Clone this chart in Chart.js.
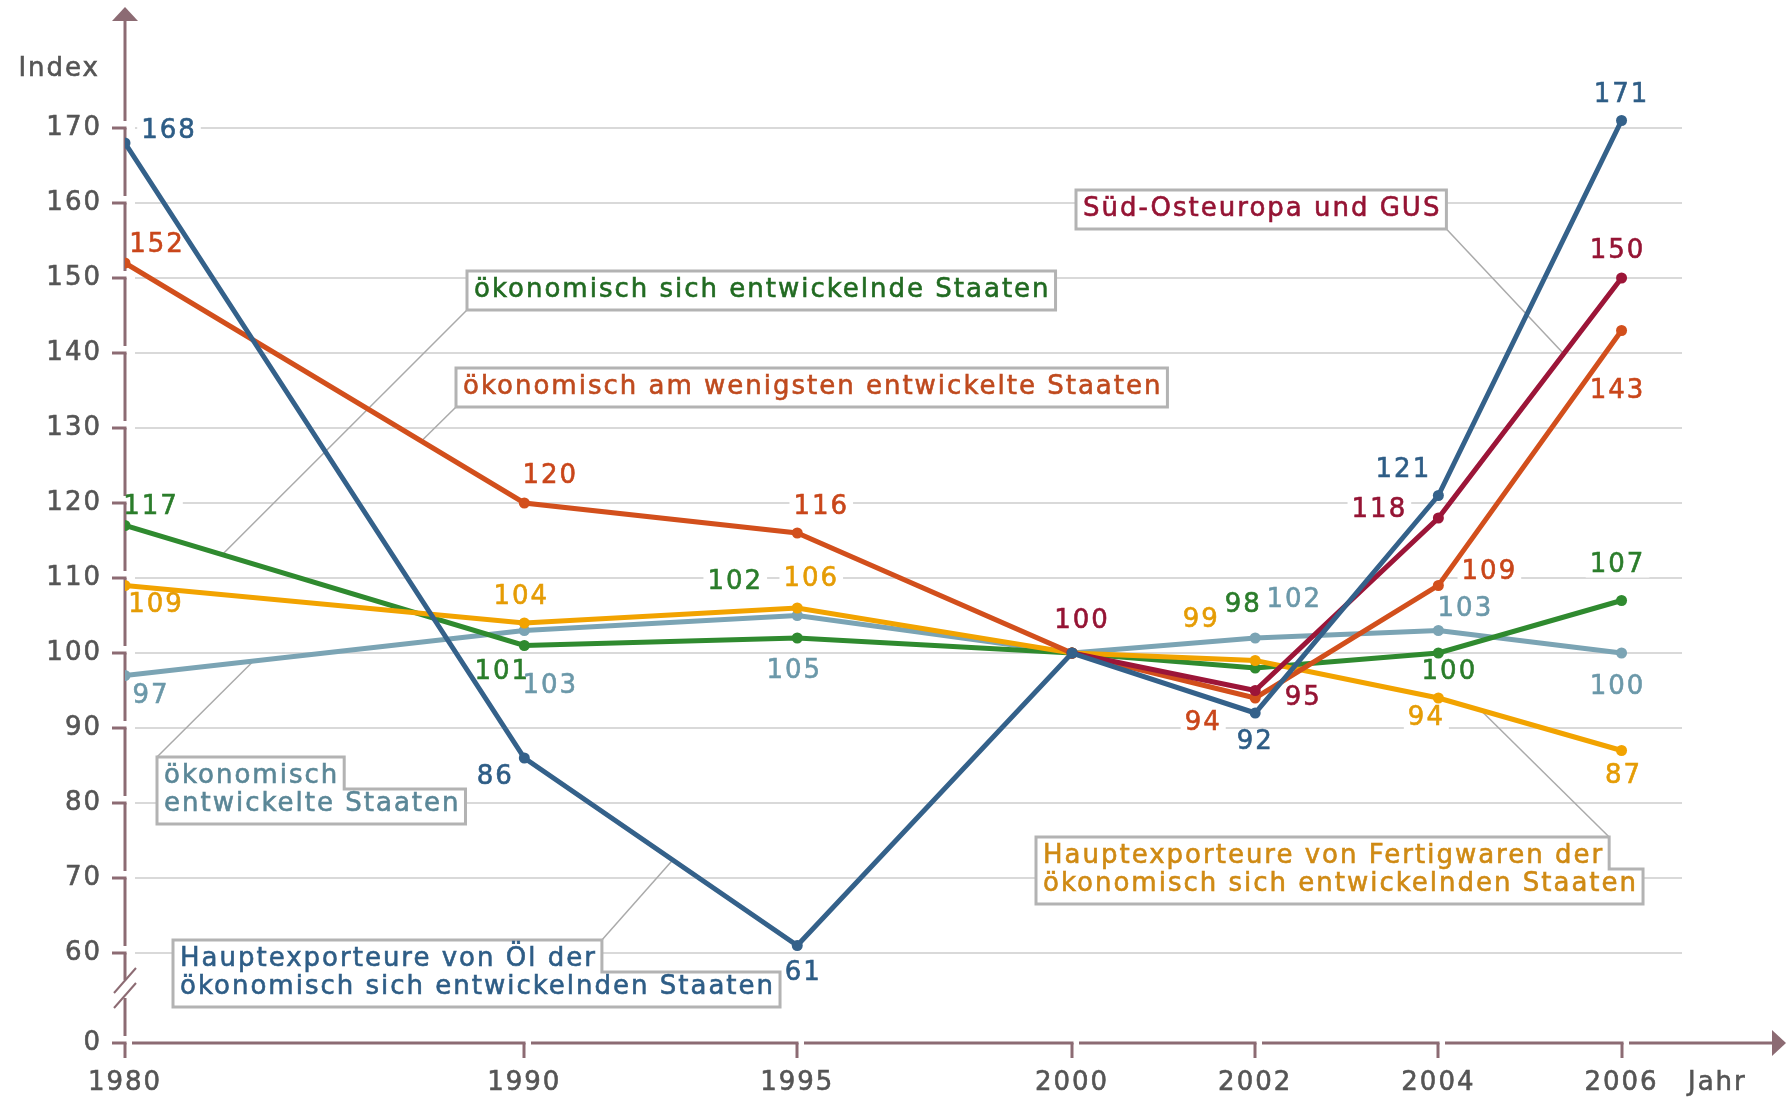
<!DOCTYPE html>
<html>
<head>
<meta charset="utf-8">
<script src="https://cdn.jsdelivr.net/npm/chart.js@4"></script>
<style>
  html, body { margin: 0; background: #fff; }
</style>
</head>
<body>
<canvas id="chart" width="1786" height="1098"></canvas>
<script>
// --- data ---
const years = [1980, 1990, 1995, 2000, 2002, 2004, 2006];
// the x axis is not to scale: each year sits on its own slot
const yearSlot = [0, 2.18, 3.67, 5.17, 6.17, 7.17, 8.17];
// broken y axis: "0" is drawn where 48 would be
const yTicks = [48, 60, 70, 80, 90, 100, 110, 120, 130, 140, 150, 160, 170];
const yTickLabels = ["0", "60", "70", "80", "90", "100", "110", "120", "130", "140", "150", "160", "170"];
const breakValue = 48;

const oilExporters   = [168, 86, 61, 100, 92, 121, 171];
const seeCis         = [null, null, null, 100, 95, 118, 150];
const leastDeveloped = [152, 120, 116, 100, 94, 109, 143];
const manufExporters = [109, 104, 106, 100, 99, 94, 87];
const developing     = [117, 101, 102, 100, 98, 100, 107];
const developed      = [97, 103, 105, 100, 102, 103, 100];

// --- look ---
const FONT_SIZE = 26;
const FONT = FONT_SIZE + 'px "DejaVu Sans"';
const SPACING = "2px";
const TEXT_STROKE = 0.6;
const axisColor = "#8c6b73";
const tickColor = "#555555";

// labelAt: offset in px of each value label from its point (null = no label)
const series = [
  { values: oilExporters, color: "#34618a", text: "#2e5d86", boxText: "#2e5d86",
    labelAt: [[44, -12], [-29, 19], [6, 28], null, [0, 29], [-35, -25], [0, -25]],
    box: { left: 173, top: 940, attach: "tr", to: { x: 2.99, y: 72.4 },
           lines: ["Hauptexporteure von Öl der", "ökonomisch sich entwickelnden Staaten"] } },
  { values: seeCis, color: "#9c1538", text: "#951434", boxText: "#951434",
    labelAt: [null, null, null, [10, -32], [48, 8], [-59, -8], [-4, -27]],
    box: { left: 1076, top: 190, attach: "br", to: { x: 7.85, y: 140 },
           lines: ["Süd-Osteuropa und GUS"] } },
  { values: leastDeveloped, color: "#d24f1c", text: "#c9461a", boxText: "#bf4a1e",
    labelAt: [[32, -18], [26, -27], [24, -26], null, [-52, 25], [51, -13], [-4, 61]],
    box: { left: 456, top: 368, attach: "bl", to: { x: 1.62, y: 128.3 },
           lines: ["ökonomisch am wenigsten entwickelte Staaten"] } },
  { values: manufExporters, color: "#f2a300", text: "#e59c05", boxText: "#cf8a14",
    labelAt: [[31, 20], [-3, -26], [14, -29], null, [-54, -40], [-12, 20], [2, 26]],
    box: { left: 1036, top: 837, attach: "tr", to: { x: 7.40, y: 92.4 },
           lines: ["Hauptexporteure von Fertigwaren der", "ökonomisch sich entwickelnden Staaten"] } },
  { values: developing, color: "#2f8a2f", text: "#2b7d2b", boxText: "#226b22",
    labelAt: [[26, -18], [-22, 27], [-62, -56], null, [-12, -63], [11, 19], [-4, -35]],
    box: { left: 467, top: 271, attach: "bl", to: { x: 0.53, y: 113.1 },
           lines: ["ökonomisch sich entwickelnde Staaten"] } },
  { values: developed, color: "#7ba4b4", text: "#6b98a9", boxText: "#5b8797",
    labelAt: [[26, 21], [26, 56], [-3, 56], null, [39, -38], [27, -21], [-4, 34]],
    box: { left: 157, top: 757, attach: "tl", to: { x: 0.70, y: 98.9 },
           lines: ["ökonomisch", "entwickelte Staaten"] } }
];

function boxGeom(ctx, b) {
  const pad = 7, lineH = 28;
  const widths = b.lines.map(t => ctx.measureText(t).width);
  const L = b.left, T = b.top;
  const R = L + Math.max(...widths) + 2 * pad - 2;
  const B = T + 39 + lineH * (b.lines.length - 1);
  let pts, notchX = R;
  if (b.lines.length > 1 && widths[0] < widths[1]) {
    notchX = L + widths[0] + 2 * pad - 2;
    pts = [[L, T], [notchX, T], [notchX, T + 32], [R, T + 32], [R, B], [L, B]];
  } else {
    pts = [[L, T], [R, T], [R, B], [L, B]];
  }
  const attach = { tl: [L, T], bl: [L, B], br: [R, B], tr: [notchX, T] }[b.attach];
  return { pts, attach, L, T, pad, lineH };
}

function seg(ctx, x1, y1, x2, y2) {
  ctx.beginPath(); ctx.moveTo(x1, y1); ctx.lineTo(x2, y2); ctx.stroke();
}

function label(ctx, text, px, py, color) {
  ctx.fillStyle = color; ctx.strokeStyle = color; ctx.lineWidth = TEXT_STROKE;
  ctx.fillText(text, px, py);
  ctx.strokeText(text, px, py);
}

function drawAxes(chart) {
  const { ctx, scales: { x, y } } = chart;
  const ax = Math.round(x.getPixelForValue(0));
  const y0 = Math.round(y.getPixelForValue(breakValue));
  const p60 = Math.round(y.getPixelForValue(60));
  ctx.strokeStyle = axisColor; ctx.fillStyle = axisColor; ctx.lineWidth = 3;

  // y axis with arrow
  const tip = 7;
  ctx.beginPath(); ctx.moveTo(ax, tip); ctx.lineTo(ax - 13, tip + 14); ctx.lineTo(ax + 13, tip + 14);
  ctx.closePath(); ctx.fill();
  let from = tip + 14;
  yTicks.filter(v => v !== breakValue)
    .map(v => Math.round(y.getPixelForValue(v)))
    .sort((a, b) => a - b)
    .forEach(py => { seg(ctx, ax, from, ax, py - 7); seg(ctx, ax - 13, py, ax + 1.5, py); from = py; });
  seg(ctx, ax, p60, ax, p60 + 27);
  ctx.lineWidth = 2;
  seg(ctx, ax - 11, p60 + 40, ax + 11, p60 + 15);
  seg(ctx, ax - 11, p60 + 55, ax + 11, p60 + 30);
  ctx.lineWidth = 3;
  seg(ctx, ax, p60 + 45, ax, y0 - 7);
  seg(ctx, ax - 13, y0, ax + 1.5, y0);
  seg(ctx, ax, y0, ax, y0 + 15);

  // x axis with arrow
  let start = ax + 7;
  yearSlot.slice(1).forEach(s => {
    const px = Math.round(x.getPixelForValue(s));
    seg(ctx, start, y0, px + 1.5, y0);
    seg(ctx, px, y0, px, y0 + 15);
    start = px + 7;
  });
  const end = chart.width;
  seg(ctx, start, y0, end - 13, y0);
  ctx.beginPath(); ctx.moveTo(end, y0); ctx.lineTo(end - 14, y0 - 13); ctx.lineTo(end - 14, y0 + 13);
  ctx.closePath(); ctx.fill();
}

const decor = {
  id: "decor",
  beforeDraw(chart) { chart.ctx.letterSpacing = SPACING; },
  beforeDatasetsDraw(chart) {
    const { ctx, chartArea, scales: { x, y } } = chart;
    ctx.save();
    ctx.letterSpacing = SPACING;
    ctx.font = FONT;

    // grid lines
    ctx.strokeStyle = "#d9d9d9"; ctx.lineWidth = 2;
    yTicks.forEach(v => {
      if (v === breakValue) return;
      const py = Math.round(y.getPixelForValue(v));
      seg(ctx, x.getPixelForValue(0) + 10, py, chartArea.right, py);
    });

    // white patches behind value labels
    ctx.fillStyle = "#fff";
    series.forEach(s => s.values.forEach((v, i) => {
      const off = s.labelAt[i];
      if (v == null || !off) return;
      const w = ctx.measureText(String(v)).width;
      const px = x.getPixelForValue(yearSlot[i]) + off[0];
      const py = y.getPixelForValue(v) + off[1];
      ctx.fillRect(px - w / 2 - 4, py - 12, w + 8, 24);
    }));

    // leader lines from boxes to their line
    ctx.strokeStyle = "#aaaaaa"; ctx.lineWidth = 1.5;
    series.forEach(s => {
      const g = boxGeom(ctx, s.box);
      seg(ctx, g.attach[0], g.attach[1], x.getPixelForValue(s.box.to.x), y.getPixelForValue(s.box.to.y));
    });

    drawAxes(chart);
    ctx.restore();
  },
  afterDatasetsDraw(chart) {
    const { ctx, scales: { x, y } } = chart;
    ctx.save();
    ctx.letterSpacing = SPACING;
    ctx.font = FONT;
    ctx.textBaseline = "middle";

    // value labels
    ctx.textAlign = "center";
    series.forEach(s => s.values.forEach((v, i) => {
      const off = s.labelAt[i];
      if (v == null || !off) return;
      label(ctx, String(v), x.getPixelForValue(yearSlot[i]) + off[0], y.getPixelForValue(v) + off[1], s.text);
    }));

    // series name boxes
    ctx.textAlign = "left";
    series.forEach(s => {
      const g = boxGeom(ctx, s.box);
      ctx.beginPath();
      g.pts.forEach((p, k) => k ? ctx.lineTo(p[0], p[1]) : ctx.moveTo(p[0], p[1]));
      ctx.closePath();
      ctx.fillStyle = "#fff"; ctx.fill();
      ctx.strokeStyle = "#b3b3b3"; ctx.lineWidth = 3; ctx.stroke();
      s.box.lines.forEach((t, k) => label(ctx, t, g.L + g.pad, g.T + 19 + g.lineH * k, s.boxText));
    });

    // axis titles
    ctx.textAlign = "right";
    label(ctx, "Index", 100, 69, tickColor);
    ctx.textAlign = "left";
    label(ctx, "Jahr", 1688, 1083, tickColor);
    ctx.restore();
  }
};

const tickFont = { family: "DejaVu Sans", size: FONT_SIZE };

new Chart(document.getElementById("chart"), {
  type: "line",
  data: {
    datasets: series.map(s => ({
      data: years.map((yr, i) => ({ x: yearSlot[i], y: s.values[i] })),
      borderColor: s.color,
      backgroundColor: s.color,
      borderWidth: 5,
      pointRadius: 5.5,
      pointBorderWidth: 0,
      tension: 0,
      fill: false,
      spanGaps: false
    }))
  },
  options: {
    responsive: false,
    animation: false,
    events: [],
    layout: { padding: { top: 8, right: 104, left: 0, bottom: 0 } },
    plugins: { legend: { display: false }, tooltip: { enabled: false } },
    scales: {
      x: {
        type: "linear", min: 0, max: 8.5,
        afterBuildTicks: s => { s.ticks = yearSlot.map(v => ({ value: v })); },
        afterFit: s => { s.height = 55; s.paddingLeft = 0; s.paddingRight = 0; },
        grid: { display: false, drawTicks: false },
        border: { display: false },
        ticks: {
          autoSkip: false, maxRotation: 0, padding: 25, color: tickColor,
          textStrokeColor: tickColor, textStrokeWidth: TEXT_STROKE,
          font: tickFont,
          callback: (v, i) => String(years[i])
        }
      },
      y: {
        min: 48, max: 186,
        afterBuildTicks: s => { s.ticks = yTicks.map(v => ({ value: v })); },
        afterFit: s => { s.width = 125; s.paddingTop = 0; s.paddingBottom = 0; },
        grid: { display: false, drawTicks: false },
        border: { display: false },
        ticks: {
          padding: 23, color: tickColor,
          textStrokeColor: tickColor, textStrokeWidth: TEXT_STROKE,
          font: tickFont,
          callback: (v, i) => yTickLabels[i]
        }
      }
    }
  },
  plugins: [decor]
});
</script>
</body>
</html>
